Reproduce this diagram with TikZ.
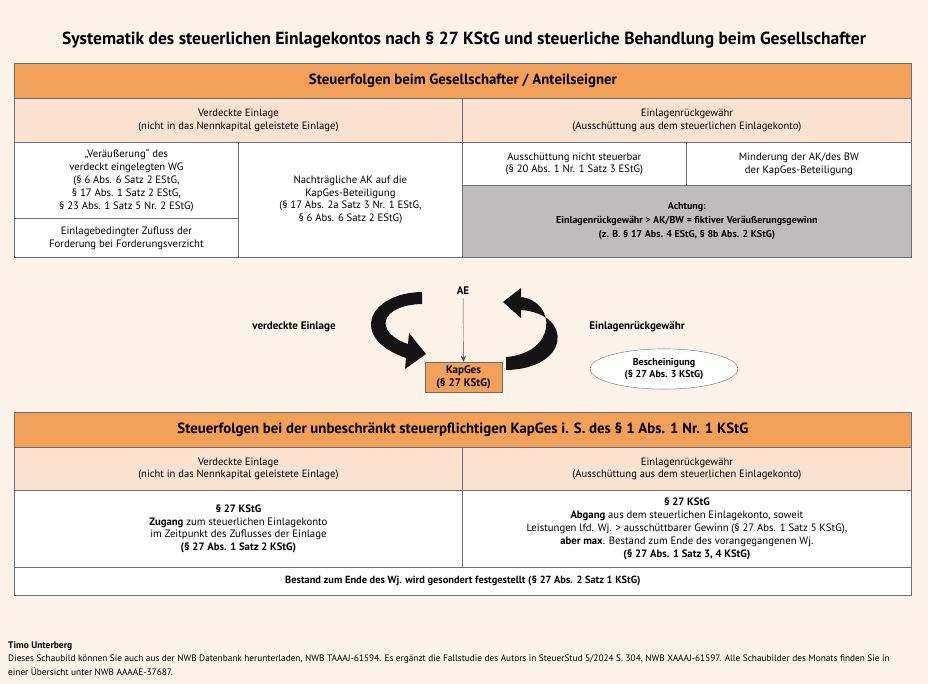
\documentclass[tikz,border=0pt]{standalone}
\usepackage{fontspec}
\setmainfont{PT Sans}
\usepackage{xcolor}
\usetikzlibrary{arrows.meta, positioning, shapes.geometric}

\definecolor{paper}{RGB}{253,243,233}
\definecolor{nwborange}{RGB}{243,161,89}
\definecolor{nwbpeach}{RGB}{252,226,208}
\definecolor{nwbgray}{RGB}{190,188,188}
\definecolor{rulegray}{RGB}{110,110,110}
\definecolor{arrowblack}{RGB}{22,20,18}

\begin{document}
\begin{tikzpicture}[x=1pt, y=-1pt,
    cell/.style={draw=rulegray, line width=0.8pt, fill=white, align=center, inner sep=2pt,
      anchor=north west, font=\fontsize{10.7}{12.9}\selectfont},
    headcell/.style={cell, fill=nwborange, font=\bfseries\fontsize{14.8}{17}\selectfont},
    subcell/.style={cell, fill=nwbpeach, font=\fontsize{10.6}{12.5}\selectfont},
    boldtext/.style={font=\bfseries\fontsize{11}{13}\selectfont, align=center}]
  \fill[paper] (0,0) rectangle (928,684);
  \useasboundingbox (0,0) rectangle (928,684);

  \node[font=\bfseries\fontsize{17.5}{20}\selectfont] (titel) at (464,40)
    {Systematik des steuerlichen Einlagekontos nach § 27 KStG und steuerliche Behandlung beim Gesellschafter};

  % Gesellschafter / Anteilseigner
  \node[headcell, minimum width=897pt, minimum height=35pt] (gshead) at (14,63)
    {Steuerfolgen beim Gesellschafter / Anteilseigner};
  \node[subcell, minimum width=448pt, minimum height=44pt] (gsve) at (14,98)
    {Verdeckte Einlage\\(nicht in das Nennkapital geleistete Einlage)};
  \node[subcell, minimum width=449pt, minimum height=44pt] (gser) at (462,98)
    {Einlagenrückgewähr\\(Ausschüttung aus dem steuerlichen Einlagekonto)};
  \node[cell, minimum width=224pt, minimum height=76pt] (veraeusserung) at (14,142)
    {„Veräußerung“ des\\verdeckt eingelegten WG\\(§ 6 Abs. 6 Satz 2 EStG,\\§ 17 Abs. 1 Satz 2 EStG,\\§ 23 Abs. 1 Satz 5 Nr. 2 EStG)};
  \node[cell, minimum width=224pt, minimum height=39pt] (zufluss) at (14,218)
    {Einlagebedingter Zufluss der\\Forderung bei Forderungsverzicht};
  \node[cell, minimum width=224pt, minimum height=115pt] (nachtraeglich) at (238,142)
    {Nachträgliche AK auf die\\KapGes-Beteiligung\\(§ 17 Abs. 2a Satz 3 Nr. 1 EStG,\\§ 6 Abs. 6 Satz 2 EStG)};
  \node[cell, minimum width=224pt, minimum height=43pt] (nichtsteuerbar) at (462,142)
    {Ausschüttung nicht steuerbar\\(§ 20 Abs. 1 Nr. 1 Satz 3 EStG)};
  \node[cell, minimum width=225pt, minimum height=43pt] (minderung) at (686,142)
    {Minderung der AK/des BW\\der KapGes-Beteiligung};
  \node[cell, fill=nwbgray, font=\bfseries\fontsize{10}{14}\selectfont,
    minimum width=449pt, minimum height=72pt] (achtung) at (462,185)
    {Achtung:\\Einlagenrückgewähr > AK/BW = fiktiver Veräußerungsgewinn\\(z. B. § 17 Abs. 4 EStG, § 8b Abs. 2 KStG)};

  % Kreislauf
  \node[boldtext] (ae) at (463,291) {AE};
  \node[draw=rulegray, fill=nwborange, boldtext, minimum width=77pt, minimum height=28pt] (kapges) at (463.5,377)
    {KapGes\\(§ 27 KStG)};
  \draw[rulegray!70!black, -{Stealth[length=6pt, width=5pt]}] (ae) -- (kapges);
  \node[boldtext] (velabel) at (294,327) {verdeckte Einlage};
  \node[boldtext] (erlabel) at (637,327) {Einlagenrückgewähr};
  \node[ellipse, draw=rulegray, fill=white, boldtext, font=\bfseries\fontsize{10}{12.5}\selectfont,
    minimum width=148pt, minimum height=38pt] (bescheinigung) at (664,369)
    {Bescheinigung\\(§ 27 Abs. 3 KStG)};
  \fill[arrowblack] (422,292) .. controls (368,293) and (348,338) .. (406,358)
    -- (405,369) -- (426,354) -- (409,333) -- (408,344)
    .. controls (373,332) and (380,305) .. (422,304) -- cycle;
  \fill[arrowblack] (506,370) .. controls (570,369) and (574,314) .. (521,310)
    -- (521,318) -- (503,302) -- (521,288) -- (521,297)
    .. controls (557,302) and (557,353) .. (506,357) -- cycle;

  % KapGes
  \node[headcell, minimum width=897pt, minimum height=35pt] (kshead) at (14,412)
    {Steuerfolgen bei der unbeschränkt steuerpflichtigen KapGes i. S. des § 1 Abs. 1 Nr. 1 KStG};
  \node[subcell, minimum width=448pt, minimum height=43pt] (ksve) at (14,447)
    {Verdeckte Einlage\\(nicht in das Nennkapital geleistete Einlage)};
  \node[subcell, minimum width=449pt, minimum height=43pt] (kser) at (462,447)
    {Einlagenrückgewähr\\(Ausschüttung aus dem steuerlichen Einlagekonto)};
  \node[cell, minimum width=448pt, minimum height=77pt] (zugang) at (14,490)
    {\textbf{§ 27 KStG}\\\textbf{Zugang} zum steuerlichen Einlagekonto\\im Zeitpunkt des Zuflusses der Einlage\\\textbf{(§ 27 Abs. 1 Satz 2 KStG)}};
  \node[cell, minimum width=449pt, minimum height=77pt] (abgang) at (462,490)
    {\textbf{§ 27 KStG}\\\textbf{Abgang} aus dem steuerlichen Einlagekonto, soweit\\Leistungen lfd. Wj. > ausschüttbarer Gewinn (§ 27 Abs. 1 Satz 5 KStG),\\\textbf{aber max}. Bestand zum Ende des vorangegangenen Wj.\\\textbf{(§ 27 Abs. 1 Satz 3, 4 KStG)}};
  \node[cell, font=\bfseries\fontsize{10.4}{12.7}\selectfont, minimum width=897pt, minimum height=28pt] (bestand) at (14,567)
    {Bestand zum Ende des Wj. wird gesondert festgestellt (§ 27 Abs. 2 Satz 1 KStG)};

  % Fusszeile
  \node[anchor=west, inner sep=0pt, font=\bfseries\fontsize{9.5}{11}\selectfont] (autor) at (8,646) {Timo Unterberg};
  \node[inner sep=0pt, align=left, font=\fontsize{9.3}{14.5}\selectfont,
    below=4pt of autor.south west, anchor=north west] (hinweis)
    {Dieses Schaubild können Sie auch aus der NWB Datenbank herunterladen, NWB TAAAJ-61594. Es ergänzt die Fallstudie des Autors in SteuerStud 5/2024 S. 304, NWB XAAAJ-61597. Alle Schaubilder des Monats finden Sie in\\einer Übersicht unter NWB AAAAE-37687.};
\end{tikzpicture}
\end{document}
